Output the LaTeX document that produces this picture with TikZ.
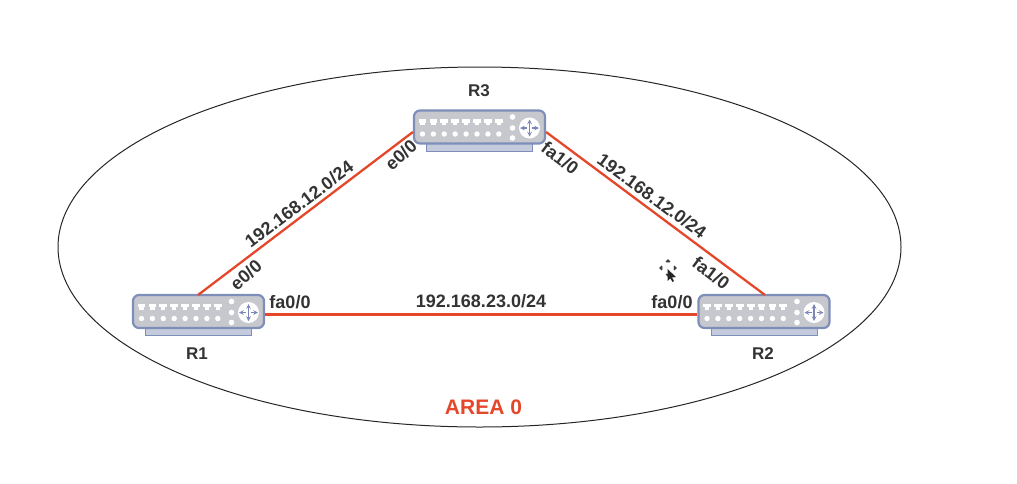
\documentclass[tikz,border=0pt]{standalone}
\usepackage{fontspec}
\setmainfont{Liberation Sans}
\definecolor{rbody}{HTML}{C6C8CE}
\definecolor{rframe}{HTML}{7D8FB8}
\definecolor{rbase}{HTML}{C3CBDD}
\definecolor{rarrow}{HTML}{7C86B4}
\definecolor{linkred}{HTML}{E5472B}
\tikzset{
 x=1pt,y=-1pt,
 link/.style={draw=linkred,line width=2.3pt},
 lab/.style={font=\fontsize{18}{18}\selectfont\bfseries,text=black!80,inner sep=0pt},
 rname/.style={font=\fontsize{17}{18}\selectfont\bfseries,text=black!80,inner sep=0pt},
 routerbox/.style={draw=rframe,fill=rbody,line width=2.2pt,rounded corners=6pt,minimum width=131pt,minimum height=33pt,inner sep=0pt},
 router/.pic={
  \fill[rbase,draw=rframe,line width=.9pt] (-53,14) rectangle (53,24);
  \node[routerbox] (-box) at (0,0) {};
  \foreach \i in {0,...,7}{
   \fill[white] ({-57+\i*10.9-3.9},-7.8) rectangle ++(7.8,3.4);
   \fill[white] ({-57+\i*10.9-2.1},-4.6) rectangle ++(4.2,2.6);
   \fill[white] ({-57+\i*10.9},7) circle (2.7);
  }
  \foreach \j in {-10,1,11}{\fill[white] (33,\j) circle (2.8);}
  \fill[white] (50,1) circle (10.5);
  \draw[rarrow,line width=1.1pt,<->,>=stealth] (50,-7.5) -- (50,9.5);
  \draw[rarrow,line width=1.1pt,->,>=stealth] (47.5,1) -- (40.5,1);
  \draw[rarrow,line width=1.1pt,->,>=stealth] (52.5,1) -- (59.5,1);
 }
}
\begin{document}
\begin{tikzpicture}
\useasboundingbox (0,0) rectangle (1017,483);
\draw[black!85,line width=1pt] (479.5,247) ellipse [x radius=421.5,y radius=180];
\coordinate (r1c) at (198.5,311.5);
\coordinate (r2c) at (764,311.5);
\coordinate (r3c) at (479.5,127);
\pic (r1) at (r1c) {router};
\pic (r2) at (r2c) {router};
\pic (r3) at (r3c) {router};
\coordinate (r1top) at (198,295);
\coordinate (r2top) at (765,295);
\draw[link] ([yshift=-3pt]r1-box.east) -- ([yshift=-3pt]r2-box.west);
\draw[link] (r1top) -- ([yshift=-5pt]r3-box.west);
\draw[link] ([yshift=-5pt]r3-box.east) -- (r2top);
\node[rname] (n3) at (479,91) {R3};
\node[rname] (n1) at (197,354) {R1};
\node[rname] (n2) at (763,354) {R2};
\node[lab] (l1) at (481,301) {192.168.23.0/24};
\node[lab,rotate=-36.5] (l2) at (652,196) {192.168.12.0/24};
\node[lab,rotate=37] (l3) at (299,204) {192.168.12.0/24};
\node[lab] (p1) at (290,302) {fa0/0};
\node[lab] (p2) at (672,302) {fa0/0};
\node[lab,rotate=42] (p3) at (246,275) {e0/0};
\node[lab,rotate=42] (p4) at (401,155) {e0/0};
\node[lab,rotate=-37] (p5) at (560,158) {fa1/0};
\node[lab,rotate=-37] (p6) at (711,273) {fa1/0};
\node[font=\fontsize{21}{21}\selectfont\bfseries,text=linkred,inner sep=0pt] (area) at (483.5,407) {AREA 0};
% mouse pointer
\fill[white] (668,268) circle (7);
\foreach \a in {0,90,180,270}{
 \draw[black!75,line width=1.1pt,rotate around={\a:(668,268)}] (668,262.5) -- (668,260) (666,262) -- (668,260) -- (670,262);
}
\fill[black!85] (667.5,269) -- (667.5,281) -- (670.3,278.3) -- (672.5,282) -- (674,281) -- (672,277.5) -- (676,277) -- cycle;
\end{tikzpicture}
\end{document}
